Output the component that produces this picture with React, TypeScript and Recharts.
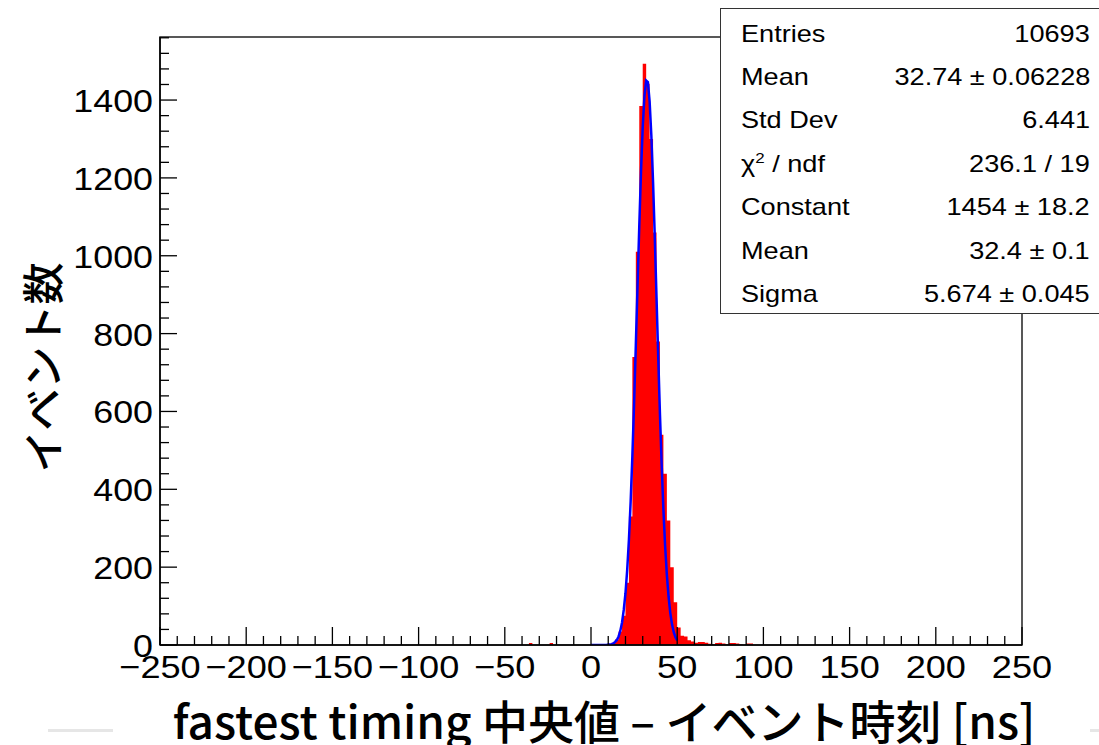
import {
  ComposedChart, Area, Line, XAxis, YAxis, ReferenceArea,
} from 'recharts'

// red histogram, 2 ns bins (low edge -> entries)
const histBinLow = [
  -36, -24, 8, 10, 12, 14, 16, 18, 20, 22, 24, 26, 28, 30, 32, 34, 36, 38,
  40, 42, 44, 46, 48, 50, 52, 54, 56, 58, 60, 62, 64, 66, 68, 70, 72, 74,
  76, 78, 80, 82, 84, 86, 90, 92,
]
const histCounts = [
  5, 5, 2, 3, 6, 14, 35, 75, 160, 330, 740, 1010, 1385, 1493, 1442, 1300, 1060, 780,
  540, 440, 320, 200, 110, 45, 24, 22, 12, 9, 6, 8, 8, 6, 3, 2, 5, 6,
  4, 2, 5, 5, 4, 2, 4, 4,
]

// gaussian fit curve as drawn (blue)
const fitX = [
  0, 1, 2, 3, 4, 5, 6, 7, 8, 9, 10, 11, 12, 13, 14, 15, 16, 17, 18, 19, 20,
  21, 22, 23, 24, 25, 26, 27, 28, 29, 30, 31, 32, 33, 34, 35, 36, 37, 38, 39, 40,
  41, 42, 43, 44, 45, 46, 47, 48, 49, 50,
]
const fitY = [
  0, 0, 0, 0, 0, 0, 0, 0, 0, 0, 1, 1, 2, 4, 8, 13, 22, 36, 58, 90, 133,
  193, 271, 368, 486, 621, 770, 924, 1076, 1215, 1330, 1410, 1450, 1446, 1397, 1309, 1189, 1047, 893, 739, 593,
  461, 348, 254, 180, 124, 82, 53, 33, 20, 12,
]

const xMajor = [-250, -200, -150, -100, -50, 0, 50, 100, 150, 200, 250]
const yMajor = [0, 200, 400, 600, 800, 1000, 1200, 1400]
const yMax = 1562

const statLabels = ['Entries', 'Mean', 'Std Dev', 'chi2', 'Constant', 'Mean', 'Sigma']
const statValues = ['10693', '32.74 \u00b1 0.06228', '6.441', '236.1 / 19', '1454 \u00b1 18.2', '32.4 \u00b1 0.1', '5.674 \u00b1 0.045']

const xTicks: number[] = []
for (let v = -250; v <= 250; v += 10) xTicks.push(v)
const yTicks: number[] = []
for (let v = 0; v <= 1560; v += 40) yTicks.push(v)

const histData: { x: number; n: number }[] = []
for (let e = -250; e < 250; e += 2) {
  const i = histBinLow.indexOf(e)
  histData.push({ x: e, n: i >= 0 ? histCounts[i] : 0 })
}
histData.push({ x: 250, n: 0 })

const fitData = fitX.map((x, i) => ({ x, f: fitY[i] }))

const numFont = '"Liberation Sans", Arial, Helvetica, sans-serif'
const cjkFont = '"Noto Sans CJK JP", "Noto Sans", sans-serif'

const fmt = (v: number) => (v < 0 ? '\u2212' + Math.abs(v) : String(v))

function XTick(props: any) {
  const { x, y, payload } = props
  const v = payload.value
  const major = xMajor.includes(v)
  return (
    <g>
      <line x1={x} x2={x} y1={y} y2={y - (major ? 18 : 9)} stroke="#000" strokeWidth={1.3} />
      {major && (
        <text transform={`translate(${x},${y + 33}) scale(1.13,1)`} textAnchor="middle"
          fontSize={32} fontFamily={numFont} fill="#000">
          {fmt(v)}
        </text>
      )}
    </g>
  )
}

function YTick(props: any) {
  const { x, y, payload } = props
  const v = payload.value
  const major = yMajor.includes(v)
  return (
    <g>
      <line x1={x} x2={x + (major ? 17 : 9)} y1={y} y2={y} stroke="#000" strokeWidth={1.3} />
      {major && (
        <text transform={`translate(${x - 7},${y + 12}) scale(1.12,1)`} textAnchor="end"
          fontSize={32} fontFamily={numFont} fill="#000">
          {v}
        </text>
      )}
    </g>
  )
}

export default function App() {
  return (
    <div style={{ position: 'absolute', left: 0, top: 0, width: 1099, height: 745, overflow: 'hidden', background: '#fff' }}>
      <ComposedChart width={1099} height={745} margin={{ top: 37, right: 77, left: 0, bottom: 0 }}>
        <XAxis
          type="number" dataKey="x" domain={[-250, 250]} ticks={xTicks} interval={0}
          tick={<XTick />} tickSize={0} tickMargin={0} tickLine={false} height={100}
          axisLine={{ stroke: '#000', strokeWidth: 1.5 }} allowDataOverflow
        />
        <YAxis
          type="number" domain={[0, yMax]} ticks={yTicks} interval={0}
          tick={<YTick />} tickSize={0} tickMargin={0} tickLine={false} width={160}
          axisLine={{ stroke: '#000', strokeWidth: 1.5 }} allowDataOverflow
        />
        <Area
          data={histData} dataKey="n" type="stepAfter" fill="#ff0000" fillOpacity={1}
          stroke="none" isAnimationActive={false} activeDot={false}
        />
        <Line
          data={fitData} dataKey="f" type="linear" stroke="#0000ff" strokeWidth={2.5}
          dot={false} activeDot={false} isAnimationActive={false}
        />
        <ReferenceArea x1={-250} x2={250} y1={0} y2={yMax} fill="none" fillOpacity={0} stroke="#222" strokeWidth={1.5} />
      </ComposedChart>

      <div style={{
        position: 'absolute', left: 0, width: 80, top: 367, height: 0,
        display: 'flex', justifyContent: 'center', alignItems: 'center',
      }}>
        <div style={{ transform: 'rotate(-90deg)', whiteSpace: 'nowrap', fontFamily: cjkFont, fontSize: 42, fontWeight: 500, color: '#000' }}>
          イベント数
        </div>
      </div>

      <div style={{
        position: 'absolute', left: 0, width: 1208, top: 691, textAlign: 'center',
        fontFamily: cjkFont, fontSize: 46, fontWeight: 500, color: '#000', whiteSpace: 'nowrap', lineHeight: '56px',
      }}>
        fastest timing 中央値 – イベント時刻 [ns]
      </div>

      <div style={{ position: 'absolute', left: 48, top: 729, width: 65, height: 3, background: '#e6e6e6' }} />
      <div style={{ position: 'absolute', left: 1090, top: 729, width: 20, height: 3, background: '#e6e6e6' }} />

      <div style={{
        position: 'absolute', left: 720, top: 8, width: 420, height: 306,
        border: '1.5px solid #333', background: '#fff', boxSizing: 'border-box',
        fontFamily: numFont, fontSize: 24, color: '#000',
      }}>
        {statLabels.map((lab, i) => (
          <div key={i} style={{
            position: 'absolute', left: 20, width: 349, top: 3 + i * 43.4, height: 43.4,
            display: 'flex', justifyContent: 'space-between', alignItems: 'center',
          }}>
            <span style={{ display: 'inline-block', transform: 'scaleX(1.13)', transformOrigin: 'left center' }}>
              {lab === 'chi2' ? (<>χ<sup style={{ fontSize: 15 }}>2</sup> / ndf</>) : lab}
            </span>
            <span style={{ display: 'inline-block', transform: 'scaleX(1.13)', transformOrigin: 'right center' }}>
              {statValues[i]}
            </span>
          </div>
        ))}
      </div>
    </div>
  )
}
